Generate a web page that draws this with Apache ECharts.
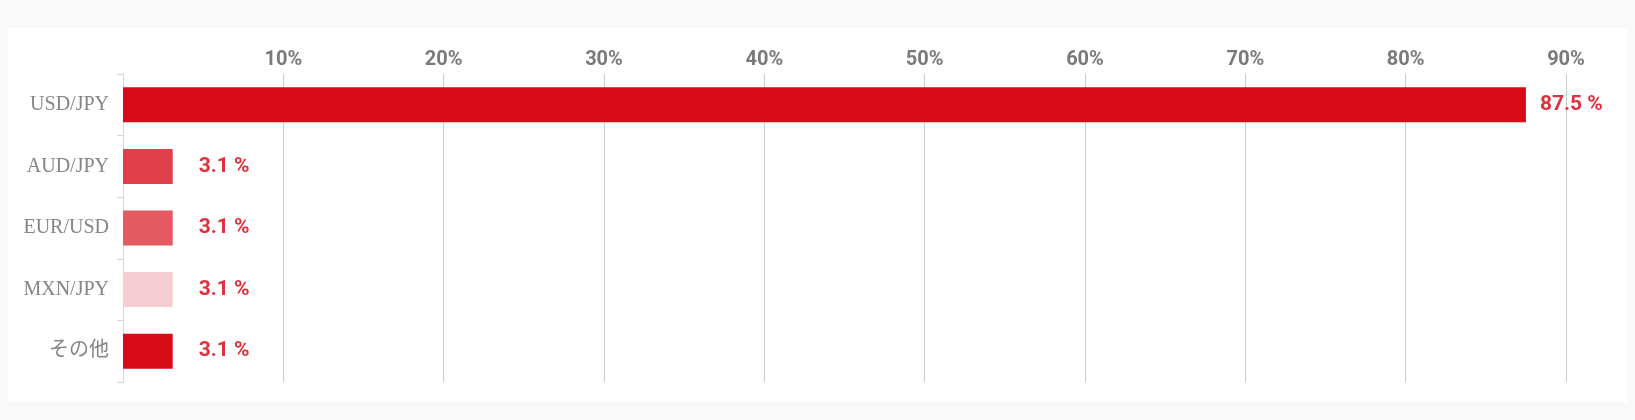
<!DOCTYPE html>
<html>
<head>
<meta charset="utf-8">
<script src="https://cdn.jsdelivr.net/npm/echarts@6/dist/echarts.min.js"></script>
<style>
html,body{margin:0;padding:0;background:#f9f9f9;width:1635px;height:420px;overflow:hidden;}
#panel{position:absolute;left:8px;top:28px;width:1619px;height:374px;background:#ffffff;}
#chart{width:1619px;height:374px;}
</style>
</head>
<body>
<div id="panel"><div id="chart"></div></div>
<script>
const categories = ['USD/JPY', 'AUD/JPY', 'EUR/USD', 'MXN/JPY', 'その他'];
const values = [87.5, 3.1, 3.1, 3.1, 3.1];
const barColors = ['#d70c18', '#e0404a', '#e35a62', '#f5cdd2', '#d70c18'];
const labelDistances = [14, 26, 26, 26, 26];
const xTicks = [0, 10, 20, 30, 40, 50, 60, 70, 80, 90];

const chart = echarts.init(document.getElementById('chart'), null, {renderer: 'canvas'});
chart.setOption({
  animation: false,
  grid: {left: 115, top: 46, width: 1443, height: 308, containLabel: false},
  xAxis: {
    type: 'value',
    position: 'top',
    min: xTicks[0],
    max: xTicks[xTicks.length - 1],
    interval: xTicks[1] - xTicks[0],
    axisLine: {show: false},
    axisTick: {show: false},
    splitLine: {show: true, lineStyle: {color: '#cccccc', width: 1}},
    axisLabel: {
      margin: 4,
      color: '#7a7a7a',
      fontSize: 20,
      fontWeight: 'bold',
      fontFamily: 'Roboto, "Liberation Sans", sans-serif',
      formatter: v => v === 0 ? '' : v + '%'
    }
  },
  yAxis: {
    type: 'category',
    data: categories,
    inverse: true,
    axisLine: {show: true, lineStyle: {color: '#c8d8ea', width: 1}},
    axisTick: {show: true, length: 6, lineStyle: {color: '#c8d8ea'}},
    axisLabel: {
      margin: 14,
      color: '#858585',
      fontSize: 20,
      fontFamily: '"Liberation Serif", "Noto Sans CJK JP", serif'
    }
  },
  series: [{
    type: 'bar',
    barWidth: 35,
    data: values.map((v, i) => ({
      value: v,
      itemStyle: {color: barColors[i]},
      label: {distance: labelDistances[i]}
    })),
    label: {
      show: true,
      position: 'right',
      color: '#e0303a',
      fontSize: 21,
      fontWeight: 'bold',
      fontFamily: 'Roboto, "Liberation Sans", sans-serif',
      formatter: p => p.value + ' %'
    }
  }]
});
</script>
</body>
</html>
